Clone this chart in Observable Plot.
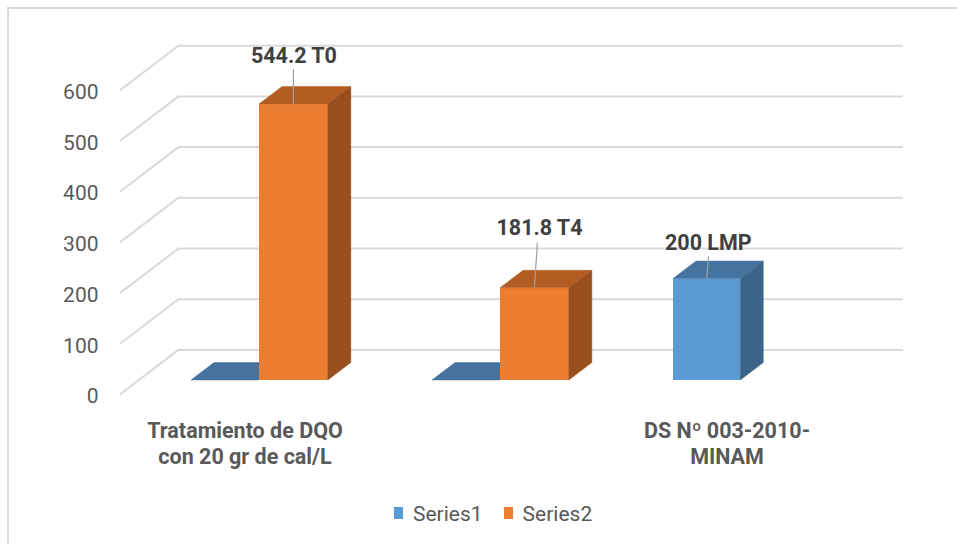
<!DOCTYPE html>
<html><head><meta charset="utf-8">
<script src="https://cdn.jsdelivr.net/npm/d3@7"></script>
<script src="https://cdn.jsdelivr.net/npm/@observablehq/plot@0.6"></script>
<style>
body{margin:0;background:#fff;font-family:Roboto,sans-serif;}
#wrap{position:relative;width:957px;height:544px;overflow:hidden;background:#fff;}
#frame{position:absolute;left:7px;top:7px;width:1100px;height:700px;border-left:2px solid #d9d9d9;border-top:2px solid #d9d9d9;pointer-events:none;z-index:2}
#legend{position:absolute;left:394px;top:502px;font-size:21px;line-height:24px;color:#595959;white-space:nowrap;font-family:Roboto,sans-serif}
.sw{display:inline-block;width:9px;height:12px;vertical-align:2px;margin-right:10px}
</style></head>
<body><div id="wrap"><div id="chart"></div><div id="legend"></div><div id="frame"></div></div>
<script>
// ---- data ----
const categories = ["Tratamiento de DQO\ncon 20 gr de cal/L", "", "DS Nº 003-2010-\nMINAM"];
const seriesNames = ["Series1", "Series2"];
const series1 = [0, 0, 200];
const series2 = [544.2, 181.8, null];
const series1Labels = [null, null, "200 LMP"];
const series2Labels = ["544.2 T0", "181.8 T4", null];
const yTicks = [0, 100, 200, 300, 400, 500, 600];

// ---- styles ----
const W = 957, H = 495;
const palette = {
  Series1: {front: "#5B9BD5", top: "#44739F", side: "#3A6589"},
  Series2: {front: "#ED7D31", top: "#B45D22", side: "#984F1D"}
};
const insets = {Series1: [53, 120.7], Series2: [121, 51.2]};
const DEPTH = [23, -17.5];
const WALL_FRONT = [-18, 14.5], WALL_BACK = [41, -30.6];
const labelStyle = {
  "544.2 T0": {lift: 35, lean: 0, gap: 7, shift: 0},
  "181.8 T4": {lift: 45, lean: 3, gap: 8.5, shift: 4.6},
  "200 LMP": {lift: 22, lean: 2, gap: 7.5, shift: 1.2}
};
const NS = "http://www.w3.org/2000/svg";

const rows = seriesNames.flatMap((s, si) => categories.map((cat, i) => ({
  cat, series: s,
  value: (si ? series2 : series1)[i],
  label: (si ? series2Labels : series1Labels)[i]
})));

function bw(x) { return x.bandwidth ? x.bandwidth() : (x(categories[1]) - x(categories[0])); }
function poly(g, pts, fill) {
  const p = document.createElementNS(NS, "polygon");
  p.setAttribute("points", pts.map(d => d.join(",")).join(" "));
  p.setAttribute("fill", fill);
  p.setAttribute("stroke", fill);
  p.setAttribute("stroke-width", "0.5");
  g.appendChild(p);
}
function line(g, a, b, stroke, width) {
  const l = document.createElementNS(NS, "line");
  l.setAttribute("x1", a[0]); l.setAttribute("y1", a[1]);
  l.setAttribute("x2", b[0]); l.setAttribute("y2", b[1]);
  l.setAttribute("stroke", stroke); l.setAttribute("stroke-width", width);
  g.appendChild(l);
}

const wallMark = (index, scales) => {
  const {x, y} = scales;
  const g = document.createElementNS(NS, "g");
  const left = x(categories[0]);
  for (const v of yTicks) {
    line(g, [left + WALL_FRONT[0], y(v) + WALL_FRONT[1]], [left + WALL_BACK[0], y(v) + WALL_BACK[1]], "#d9d9d9", 2);
  }
  return g;
};

function faceMark(data, s) {
  return (index, scales) => {
    const {x, y} = scales;
    const g = document.createElementNS(NS, "g");
    const w = bw(x);
    for (const r of data) {
      const x0 = x(r.cat) + insets[s][0], x1 = x(r.cat) + w - insets[s][1];
      const yt = y(r.value), yb = y(0);
      const [dx, dy] = DEPTH;
      poly(g, [[x0, yt], [x1, yt], [x1 + dx, yt + dy], [x0 + dx, yt + dy]], palette[s].top);
      if (yb - yt > 0.5) poly(g, [[x1, yt], [x1 + dx, yt + dy], [x1 + dx, yb + dy], [x1, yb]], palette[s].side);
    }
    return g;
  };
}

const labeled = rows.filter(r => r.label);
const leaderMark = (index, scales) => {
  const {x, y} = scales;
  const g = document.createElementNS(NS, "g");
  const w = bw(x);
  for (const r of labeled) {
    const [iL, iR] = insets[r.series];
    const cx = x(r.cat) + iL + (w - iL - iR) / 2;
    const st = labelStyle[r.label];
    line(g, [cx, y(r.value)], [cx + st.lean, y(r.value) - st.lift], "#a0a0a0", 1.2);
  }
  return g;
};

const marks = [
  wallMark,
  Plot.ruleY(yTicks, {y: d => d, dx: WALL_BACK[0], dy: WALL_BACK[1], stroke: "#d9d9d9", strokeWidth: 2}),
  Plot.text(yTicks, {y: d => d, text: d => String(d), frameAnchor: "left", textAnchor: "end", dx: -39, dy: 16, fontSize: 21, fill: "#595959"}),
  Plot.text(categories, {x: d => d, text: d => d, frameAnchor: "bottom", lineAnchor: "top", dy: 39, dx: -14, fontSize: 21.5, fontWeight: "bold", fill: "#595959", lineHeight: 1.22})
];
for (const s of seriesNames) {
  const data = rows.filter(r => r.series === s && r.value != null);
  marks.push(Plot.barY(data, {x: "cat", y: "value", fill: palette[s].front, insetLeft: insets[s][0], insetRight: insets[s][1]}));
  marks.push(faceMark(data, s));
}
marks.push(leaderMark);
for (const r of labeled) {
  const [iL, iR] = insets[r.series];
  const st = labelStyle[r.label];
  marks.push(Plot.text([r], {x: "cat", y: "value", text: "label", lineAnchor: "bottom",
    dx: (iL - iR) / 2 + st.shift, dy: -(st.lift + st.gap), fontSize: 21.5, fontWeight: "bold", fill: "#404040"}));
}

const chart = Plot.plot({
  width: W, height: H,
  marginLeft: 137, marginRight: 95, marginTop: 75.8, marginBottom: 115,
  x: {type: "band", domain: categories, padding: 0, axis: null},
  y: {domain: [0, 600], axis: null},
  style: {fontFamily: "Roboto, sans-serif", background: "white"},
  marks
});
document.getElementById("chart").appendChild(chart);

const legend = document.getElementById("legend");
seriesNames.forEach((s, i) => {
  const sw = document.createElement("span");
  sw.className = "sw";
  sw.style.background = palette[s].front;
  if (i) sw.style.marginLeft = "21px";
  legend.appendChild(sw);
  legend.appendChild(document.createTextNode(s));
});
</script>
</body></html>
